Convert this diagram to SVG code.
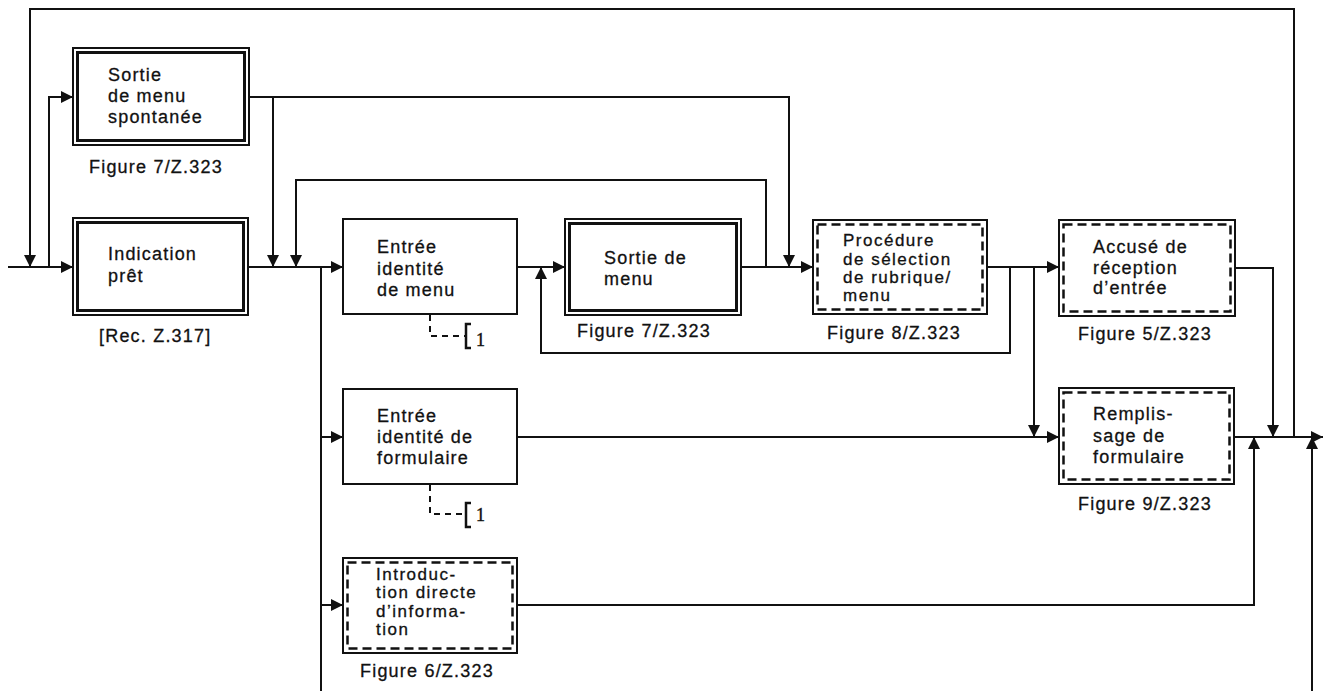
<svg xmlns="http://www.w3.org/2000/svg" width="1323" height="691" viewBox="0 0 1323 691">
<style>
  .bg { fill: #ffffff; }
  .box { fill: #ffffff; stroke: #111; stroke-width: 2; }
  .inner { fill: none; stroke: #111; stroke-width: 3; }
  .dash { fill: none; stroke: #111; stroke-width: 2.5; stroke-dasharray: 9 5; }
  .wire { fill: none; stroke: #111; stroke-width: 2; }
  .dwire { fill: none; stroke: #111; stroke-width: 2; stroke-dasharray: 6 5; }
  .bracket { fill: none; stroke: #111; stroke-width: 2.5; }
  .t { font-family: "Liberation Sans", Arial, sans-serif; font-size: 18px; letter-spacing: 1.2px; fill: #111; stroke: #111; stroke-width: 0.3px; }
  .ts { font-family: "Liberation Sans", Arial, sans-serif; font-size: 17px; letter-spacing: 1.5px; fill: #111; stroke: #111; stroke-width: 0.3px; }
  .cap { font-family: "Liberation Sans", Arial, sans-serif; font-size: 18px; letter-spacing: 1.2px; fill: #111; stroke: #111; stroke-width: 0.3px; }
  .num { font-family: "Liberation Serif", "Times New Roman", serif; font-size: 18px; fill: #111; stroke: #111; stroke-width: 0.4px; }
</style>
<defs>
  <marker id="arr" markerUnits="userSpaceOnUse" markerWidth="12" markerHeight="12" refX="12" refY="6" orient="auto">
    <path d="M0,0 L12,6 L0,12 z" fill="#111"/>
  </marker>
</defs>
<rect class="bg" x="0" y="0" width="1323" height="691"/>

<g id="connectors">
  <path class="wire" d="M8,267 H73" marker-end="url(#arr)"/>
  <path class="wire" d="M1294,437 V9 H30 V267" marker-end="url(#arr)"/>
  <path class="wire" d="M49,267 V97 H73" marker-end="url(#arr)"/>
  <path class="wire" d="M249,97 H789 V267" marker-end="url(#arr)"/>
  <path class="wire" d="M273,97 V267" marker-end="url(#arr)"/>
  <path class="wire" d="M248,267 H343" marker-end="url(#arr)"/>
  <path class="wire" d="M766,267 V180 H296 V267" marker-end="url(#arr)"/>
  <path class="wire" d="M321,267 V691"/>
  <path class="wire" d="M321,437 H343" marker-end="url(#arr)"/>
  <path class="wire" d="M321,605 H343" marker-end="url(#arr)"/>
  <path class="wire" d="M517,267 H565" marker-end="url(#arr)"/>
  <path class="wire" d="M741,267 H813" marker-end="url(#arr)"/>
  <path class="wire" d="M987,267 H1059" marker-end="url(#arr)"/>
  <path class="wire" d="M1010,267 V353 H541 V267" marker-end="url(#arr)"/>
  <path class="wire" d="M1034,267 V437" marker-end="url(#arr)"/>
  <path class="wire" d="M517,437 H1059" marker-end="url(#arr)"/>
  <path class="wire" d="M517,605 H1254 V437" marker-end="url(#arr)"/>
  <path class="wire" d="M1235,268 H1273 V437" marker-end="url(#arr)"/>
  <path class="wire" d="M1234,437 H1323" marker-end="url(#arr)"/>
  <path class="wire" d="M1312,691 V437" marker-end="url(#arr)"/>
</g>

<g id="sortie-spontanee">
  <rect class="box" x="73" y="48" width="176" height="97"/>
  <rect class="inner" x="77.5" y="52.5" width="167" height="88"/>
  <text class="t" x="108" y="81">Sortie</text>
  <text class="t" x="108" y="102">de menu</text>
  <text class="t" x="108" y="123">spontanée</text>
  <text class="cap" x="89" y="173">Figure 7/Z.323</text>
</g>

<g id="indication-pret">
  <rect class="box" x="73" y="218" width="175" height="97"/>
  <rect class="inner" x="77.5" y="222.5" width="166" height="88"/>
  <text class="t" x="108" y="260">Indication</text>
  <text class="t" x="108" y="282">prêt</text>
  <text class="cap" x="99" y="342">[Rec. Z.317]</text>
</g>

<g id="entree-menu">
  <rect class="box" x="343" y="219" width="174" height="95"/>
  <text class="t" x="377" y="253">Entrée</text>
  <text class="t" x="377" y="275">identité</text>
  <text class="t" x="377" y="296">de menu</text>
  <path class="dwire" d="M430,315 V336 H466"/>
  <path class="bracket" d="M471,324 H466 V348 H471"/>
  <text class="num" x="476" y="346">1</text>
</g>

<g id="sortie-menu">
  <rect class="box" x="565" y="219" width="176" height="96"/>
  <rect class="inner" x="569.5" y="223.5" width="167" height="87"/>
  <text class="t" x="604" y="264">Sortie de</text>
  <text class="t" x="604" y="285">menu</text>
  <text class="cap" x="577" y="337">Figure 7/Z.323</text>
</g>

<g id="procedure">
  <rect class="box" x="813" y="220" width="174" height="94"/>
  <rect class="dash" x="817.5" y="224.5" width="165" height="85"/>
  <text class="ts" x="843" y="246">Procédure</text>
  <text class="ts" x="843" y="265">de sélection</text>
  <text class="ts" x="843" y="283">de rubrique/</text>
  <text class="ts" x="843" y="301">menu</text>
  <text class="cap" x="827" y="339">Figure 8/Z.323</text>
</g>

<g id="accuse">
  <rect class="box" x="1059" y="220" width="176" height="96"/>
  <rect class="dash" x="1063.5" y="224.5" width="167" height="87"/>
  <text class="t" x="1093" y="253">Accusé de</text>
  <text class="t" x="1093" y="274">réception</text>
  <text class="t" x="1093" y="294">d’entrée</text>
  <text class="cap" x="1078" y="340">Figure 5/Z.323</text>
</g>

<g id="entree-formulaire">
  <rect class="box" x="343" y="389" width="174" height="95"/>
  <text class="t" x="377" y="422">Entrée</text>
  <text class="t" x="377" y="443">identité de</text>
  <text class="t" x="377" y="464">formulaire</text>
  <path class="dwire" d="M430,485 V514 H466"/>
  <path class="bracket" d="M471,503 H466 V527 H471"/>
  <text class="num" x="476" y="521">1</text>
</g>

<g id="remplissage">
  <rect class="box" x="1059" y="388" width="175" height="96"/>
  <rect class="dash" x="1063.5" y="392.5" width="166" height="87"/>
  <text class="t" x="1093" y="420">Remplis-</text>
  <text class="t" x="1093" y="442">sage de</text>
  <text class="t" x="1093" y="463">formulaire</text>
  <text class="cap" x="1078" y="510">Figure 9/Z.323</text>
</g>

<g id="introduction">
  <rect class="box" x="343" y="558" width="174" height="95"/>
  <rect class="dash" x="347.5" y="562.5" width="165" height="86"/>
  <text class="ts" x="376" y="580">Introduc-</text>
  <text class="ts" x="376" y="598">tion directe</text>
  <text class="ts" x="376" y="617">d’informa-</text>
  <text class="ts" x="376" y="635">tion</text>
  <text class="cap" x="360" y="677">Figure 6/Z.323</text>
</g>
</svg>
